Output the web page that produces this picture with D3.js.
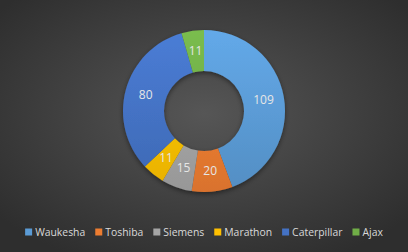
<!DOCTYPE html>
<html lang="en">
<head>
<meta charset="UTF-8">
<title>Donut</title>
<script src="https://cdn.jsdelivr.net/npm/d3@7/dist/d3.min.js"></script>
<style>
  body { margin: 0; background: #404040; }
  text { font-family: "Open Sans", "Noto Sans", sans-serif; }
</style>
</head>
<body>
<div id="main_container"></div>
<script>

    var svgWidth = 408;
    var svgHeight = 252;

    // data
    var categories = ["Waukesha", "Toshiba", "Siemens", "Marathon", "Caterpillar", "Ajax"];
    var values = [109, 20, 15, 11, 80, 11];
    var colors = ["#5B9BD5", "#ED7D31", "#A5A5A5", "#FFC000", "#4472C4", "#70AD47"];

    var cx = 204, cy = 111;
    var outerR = 81, innerR = 40;

    var svg = d3.select("#main_container").append("svg")
            .attr("width", svgWidth)
            .attr("height", svgHeight);

    var defs = svg.append("defs");

    var bg = defs.append("radialGradient")
            .attr("id", "bg")
            .attr("cx", "50%").attr("cy", "45%").attr("r", "65%");
    bg.append("stop").attr("offset", "0%").attr("stop-color", "#565656");
    bg.append("stop").attr("offset", "100%").attr("stop-color", "#2e2e2e");

    var shadow = defs.append("filter").attr("id", "shadow")
            .attr("x", "-20%").attr("y", "-20%").attr("width", "140%").attr("height", "140%");
    shadow.append("feDropShadow")
            .attr("dx", 0).attr("dy", 2).attr("stdDeviation", 2.5)
            .attr("flood-color", "#000").attr("flood-opacity", 0.45);

    // light-to-dark gradient per slice
    colors.forEach(function(c, i){
        var g = defs.append("linearGradient")
                .attr("id", "grad" + i)
                .attr("gradientUnits", "userSpaceOnUse")
                .attr("x1", 0).attr("y1", -outerR)
                .attr("x2", 0).attr("y2", outerR);
        g.append("stop").attr("offset", "0%").attr("stop-color", d3.color(c).brighter(0.25));
        g.append("stop").attr("offset", "100%").attr("stop-color", d3.color(c).darker(0.25));
    });

    svg.append("rect")
            .attr("width", svgWidth)
            .attr("height", svgHeight)
            .attr("fill", "url(#bg)");

    var pie = d3.pie().sort(null).value(function(d){ return d; });
    var arcs = pie(values);

    var arc = d3.arc().innerRadius(innerR).outerRadius(outerR);
    var labelArc = d3.arc().innerRadius((innerR + outerR) / 2).outerRadius((innerR + outerR) / 2);

    var gPie = svg.append("g")
            .attr("transform", "translate(" + cx + "," + cy + ")");

    gPie.append("g")
            .attr("filter", "url(#shadow)")
            .selectAll("path")
            .data(arcs)
            .enter().append("path")
            .attr("d", arc)
            .attr("fill", function(d, i){ return "url(#grad" + i + ")"; });

    gPie.selectAll(".lbl")
            .data(arcs)
            .enter().append("text")
            .attr("class", "lbl")
            .attr("x", function(d){ return labelArc.centroid(d)[0]; })
            .attr("y", function(d){ return labelArc.centroid(d)[1]; })
            .attr("dy", "0.35em")
            .attr("text-anchor", "middle")
            .attr("font-size", "12px")
            .attr("fill", "#e6e6e6")
            .text(function(d){ return d.data; });

    // legend
    var legend = svg.append("g");
    var x = 0, gap = 10;
    categories.forEach(function(name, i){
        var item = legend.append("g").attr("transform", "translate(" + x + ",0)");
        item.append("rect")
                .attr("x", 0).attr("y", -3.5)
                .attr("width", 7).attr("height", 7)
                .attr("fill", colors[i]);
        var t = item.append("text")
                .attr("x", 10).attr("y", 0)
                .attr("dy", "0.35em")
                .attr("font-size", "10.4px")
                .attr("fill", "#d9d9d9")
                .text(name);
        x += 10 + t.node().getComputedTextLength() + gap;
    });
    var legendW = x - gap;
    legend.attr("transform", "translate(" + (cx - legendW / 2) + ",232)");

</script>
</body>
</html>
